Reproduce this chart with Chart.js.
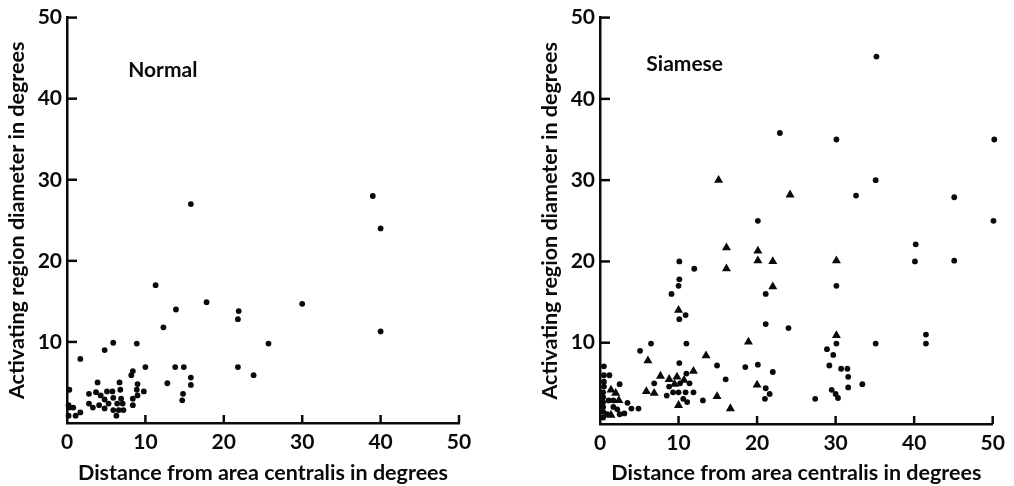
<!DOCTYPE html>
<html>
<head>
<meta charset="utf-8">
<script src="https://cdn.jsdelivr.net/npm/chart.js@4/dist/chart.umd.min.js"></script>
<style>
  html, body { margin: 0; padding: 0; background: #fff; }
  body { width: 1014px; height: 486px; position: relative; overflow: hidden; }
  canvas { position: absolute; top: 0; }
  #cNormal { left: 0; }
  #cSiamese { left: 533px; }
</style>
</head>
<body>
<canvas id="cNormal" width="500" height="486"></canvas>
<canvas id="cSiamese" width="481" height="486"></canvas>
<script>
// ---------- DATA ----------
const xTickValues = [0, 10, 20, 30, 40, 50];
const yTickValues = [0, 10, 20, 30, 40, 50];
const xAxisTitle = 'Distance from area centralis in degrees';
const yAxisTitle = 'Activating region diameter in degrees';
const panelTitles = ['Normal', 'Siamese'];

// Normal cats (dots)
const normalX = [39, 40, 40, 30, 25.7, 23.8, 21.8, 21.9, 21.8, 17.8, 15.8, 11.3, 12.3, 13.9, 13.8, 14.9, 12.8, 14.8, 14.7, 15.8, 15.8,
  10, 9.8, 8.9, 9, 8.9, 9, 8.4, 8.2, 8.4, 8.4, 5.9, 4.8, 1.7, 0.3, 0.2, 0.3, 0.8, 0.2, 1.1, 1.7, 2.8, 2.8, 3.3, 3.7, 3.9,
  4.1, 4.3, 4.8, 4.8, 5.1, 5.3, 5.8, 5.9, 5.9, 6.4, 6.3, 6.7, 6.8, 6.9, 6.6, 7.1, 7.2];
const normalY = [28, 24, 11.3, 14.7, 9.8, 5.9, 12.8, 13.8, 6.9, 14.9, 27, 17, 11.8, 14, 6.9, 6.9, 4.9, 3.6, 2.8, 5.6, 4.7,
  6.9, 3.9, 9.8, 4.8, 4.1, 3.4, 6.4, 5.9, 3, 2.2, 9.9, 9, 7.9, 4.1, 2.2, 1.9, 1.9, 0.9, 0.9, 1.3, 3.6, 2.4, 1.9, 3.8, 5,
  2.2, 3.4, 2.9, 1.8, 3.9, 2.4, 3.9, 3.1, 1.6, 2.4, 0.9, 5, 4.1, 3, 1.6, 2.4, 1.6];

// Siamese cats, dots
const siameseDotX = [35.2, 22.9, 30.1, 50.2, 35.1, 32.6, 45.1, 20.1, 50.1, 40.2, 40.1, 45.1, 10.1, 12, 10.1, 10, 30.1, 9.1, 21.1,
  10.9, 10.1, 21.1, 24, 41.5, 41.5, 35.1, 30.1, 6.5, 11, 5.1, 28.9, 29.7, 10.1, 20.1, 14.9, 18.5, 29.2, 30.7, 31.5, 31.6, 31.6,
  33.4, 22, 16, 29.5, 30, 30.3, 27.4, 21.1, 21.6, 21, 13.1, 11, 6.9, 8.5, 8.8, 10.2, 11.4, 9.3, 10, 10.9, 11.9, 10.6, 11.1,
  4, 4.9, 3.5, 3.1, 2.5, 2.2, 2.5, 0.5, 0.5, 1.2, 0.5, 0.5, 0.4, 0.4, 0.4, 0.4, 0.4, 0.4, 1.1, 1.7, 1.7, 0.9];
const siameseDotY = [45.2, 35.8, 35, 35, 30, 28.1, 27.9, 25, 25, 22.1, 20, 20.1, 20, 19.1, 17.8, 17, 17, 16, 16,
  13.4, 12.9, 12.3, 11.8, 11, 9.9, 9.9, 9.9, 9.9, 9.9, 9, 9.2, 8.5, 7.5, 7.3, 7.2, 7, 7.2, 6.8, 6.8, 5.8, 4.5,
  4.9, 6.4, 5.5, 4.2, 3.7, 3.2, 3.1, 4.4, 3.7, 3.1, 2.9, 6.2, 5, 3.5, 4.6, 5, 5, 3.9, 3.9, 3.9, 3.9, 3.1, 2.7,
  1.9, 1.9, 2.6, 1.3, 1.2, 1.8, 4.9, 7.1, 6, 6, 5.2, 4.6, 3.9, 3.3, 2.7, 2.1, 1.5, 0.8, 2.9, 2.9, 2.1, 1.2];

// Siamese cats, triangles
const siameseTriX = [15.1, 24.2, 16.1, 16.1, 20.1, 20.1, 22, 22, 30.1, 30.1, 10, 18.9, 13.5, 6.1, 5.9, 6.9, 7.7, 8.8, 9.8,
  9.5, 10.7, 11.9, 10, 14.9, 20, 16.6, 1.4, 2, 2.4, 1.4];
const siameseTriY = [30, 28.2, 21.7, 19.1, 21.3, 20.1, 20, 16.9, 20.1, 10.9, 14, 10.1, 8.4, 7.8, 4, 3.8, 5.9, 5.5, 5.8,
  4.9, 5.4, 6.5, 2.3, 3.4, 4.8, 1.9, 4.2, 3.8, 2.9, 1.1];

// ---------- HELPERS ----------
const toPts = (xs, ys) => xs.map((x, i) => ({ x: x, y: ys[i] }));
const INK = '#0a0a0a';
const tickFont = { family: 'Lato', weight: 'bold', size: 21 };
const titleFont = { family: 'Lato', weight: 'bold', size: 21.5 };

const inwardTicks = {
  id: 'inwardTicks',
  afterDatasetsDraw(chart, args, opts) {
    const ctx = chart.ctx;
    const xs = chart.scales.x, ys = chart.scales.y;
    const a = chart.chartArea;
    ctx.save();
    ctx.strokeStyle = INK;
    ctx.lineWidth = 2.5;
    ctx.lineCap = 'butt';
    xs.ticks.forEach(t => {
      if (t.value === xs.min) return;
      const px = xs.getPixelForValue(t.value);
      ctx.beginPath(); ctx.moveTo(px, a.bottom); ctx.lineTo(px, a.bottom - 8); ctx.stroke();
    });
    ys.ticks.forEach(t => {
      if (t.value === ys.min) return;
      const py = ys.getPixelForValue(t.value);
      ctx.beginPath(); ctx.moveTo(a.left, py); ctx.lineTo(a.left + 10, py); ctx.stroke();
    });
    // panel label
    if (opts.text) {
      ctx.fillStyle = INK;
      ctx.font = 'bold 21px Lato';
      ctx.textBaseline = 'alphabetic';
      ctx.textAlign = 'left';
      ctx.fillText(opts.text, xs.getPixelForValue(opts.atX), ys.getPixelForValue(opts.atY));
    }
    ctx.restore();
  }
};

function makeChart(id, datasets, label, labelAt, rightPad, xHeight) {
  return new Chart(document.getElementById(id), {
    type: 'scatter',
    data: { datasets: datasets },
    plugins: [inwardTicks],
    options: {
      responsive: false,
      animation: false,
      devicePixelRatio: 1,
      layout: { padding: { top: 15, right: rightPad, bottom: 0, left: 0 } },
      plugins: {
        legend: { display: false },
        tooltip: { enabled: false },
        inwardTicks: { text: label, atX: labelAt[0], atY: labelAt[1] }
      },
      scales: {
        x: {
          type: 'linear', min: 0, max: 50,
          afterBuildTicks: s => { s.ticks = xTickValues.map(v => ({ value: v })); },
          afterFit: s => { s.height = xHeight; },
          grid: { display: false, drawTicks: false },
          border: { display: true, color: INK, width: 2.5 },
          ticks: { color: INK, font: tickFont, padding: 7, maxRotation: 0 },
          title: { display: true, text: xAxisTitle, color: INK, font: titleFont, padding: { top: 0, bottom: 0 } }
        },
        y: {
          type: 'linear', min: 0, max: 50,
          afterBuildTicks: s => { s.ticks = yTickValues.map(v => ({ value: v })); },
          afterFit: s => { s.width = 67; },
          grid: { display: false, drawTicks: false },
          border: { display: true, color: INK, width: 2.5 },
          ticks: { color: INK, font: tickFont, padding: 5, callback: v => (v === 0 ? '' : v) },
          title: { display: true, text: yAxisTitle, color: INK, font: titleFont, padding: { top: 4, bottom: 0 } }
        }
      }
    }
  });
}

const dotStyle = { pointStyle: 'circle', pointRadius: 2.9, pointBackgroundColor: INK, pointBorderColor: INK, pointBorderWidth: 0, clip: false };

makeChart('cNormal', [
  Object.assign({ label: 'Normal', data: toPts(normalX, normalY) }, dotStyle)
], panelTitles[0], [7.8, 42.7], 41, 63);

makeChart('cSiamese', [
  Object.assign({ label: 'Siamese (dots)', data: toPts(siameseDotX, siameseDotY) }, dotStyle),
  { label: 'Siamese (triangles)', data: toPts(siameseTriX, siameseTriY), pointStyle: 'triangle', pointRadius: 5.2,
    pointBackgroundColor: INK, pointBorderColor: INK, pointBorderWidth: 0, clip: false }
], panelTitles[1], [5.9, 43.4], 21.3, 62);
</script>
</body>
</html>
